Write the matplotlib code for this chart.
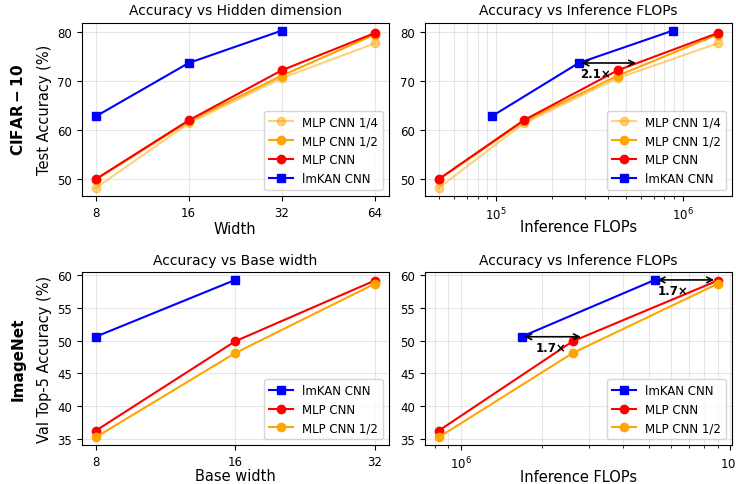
import matplotlib.pyplot as plt

# CIFAR-10 results
cifar_width = [8, 16, 32, 64]
cifar_kan_width = [8, 16, 32]
cifar_mlp = [49.9, 61.9, 72.1, 79.7]
cifar_mlp_half = [49.8, 61.7, 71.0, 79.4]
cifar_mlp_quarter = [48.1, 61.3, 70.5, 77.6]
cifar_kan = [62.7, 73.6, 80.2]
cifar_mlp_flops = [4.95e4, 1.41e5, 4.49e5, 1.54e6]
cifar_kan_flops = [9.5e4, 2.78e5, 8.85e5]

# ImageNet results
imnet_width = [8, 16, 32]
imnet_kan_width = [8, 16]
imnet_mlp = [36.2, 49.9, 59.2]
imnet_mlp_half = [35.2, 48.1, 58.7]
imnet_kan = [50.6, 59.3]
imnet_mlp_flops = [8.28e5, 2.60e6, 8.96e6]
imnet_kan_flops = [1.68e6, 5.24e6]

# speedup arrows: (start flops, accuracy, ratio)
cifar_speedups = [(2.78e5, 73.6, 2.1)]
imnet_speedups = [(1.68e6, 50.6, 1.7), (5.24e6, 59.3, 1.7)]
cifar_text_shift = [1.23]
imnet_text_shift = [1.29, 1.17]

fig = plt.figure(figsize=(7.36, 4.85), dpi=100)
ax1 = fig.add_axes([0.111, 0.594, 0.417, 0.357])
ax2 = fig.add_axes([0.577, 0.594, 0.417, 0.357])
ax3 = fig.add_axes([0.111, 0.080, 0.417, 0.357])
ax4 = fig.add_axes([0.577, 0.080, 0.417, 0.357])

lw = 1.5
ms = 6

def cifar_lines(ax, xm, xk):
    ax.plot(xm, cifar_mlp_quarter, 'o-', color='orange', alpha=0.5, lw=lw, ms=ms, label='MLP CNN 1/4')
    ax.plot(xm, cifar_mlp_half, 'o-', color='orange', lw=lw, ms=ms, label='MLP CNN 1/2')
    ax.plot(xm, cifar_mlp, 'o-', color='red', lw=lw, ms=ms, label='MLP CNN')
    ax.plot(xk, cifar_kan, 's-', color='blue', lw=lw, ms=ms, label='lmKAN CNN')

def imnet_lines(ax, xm, xk):
    ax.plot(xk, imnet_kan, 's-', color='blue', lw=lw, ms=ms, label='lmKAN CNN')
    ax.plot(xm, imnet_mlp, 'o-', color='red', lw=lw, ms=ms, label='MLP CNN')
    ax.plot(xm, imnet_mlp_half, 'o-', color='orange', lw=lw, ms=ms, label='MLP CNN 1/2')

def speedup(ax, items, shifts):
    for (x0, y0, r), s in zip(items, shifts):
        ax.annotate('', xy=(x0 * r, y0), xytext=(x0, y0),
                    arrowprops=dict(arrowstyle='<->', color='black', lw=1.2))
        ax.annotate(f'{r}×', xy=(x0 * s, y0), xytext=(0, -7.5), textcoords='offset points',
                    ha='center', va='center', fontsize=8.5, fontweight='bold')

cifar_lines(ax1, cifar_width, cifar_kan_width)
ax1.set_xscale('log', base=2)
ax1.set_xticks(cifar_width)
ax1.set_xticklabels([str(w) for w in cifar_width])
ax1.set_title('Accuracy vs Hidden dimension', fontsize=10)
ax1.set_xlabel('Width', fontsize=10.5, labelpad=2)
ax1.set_ylabel('Test Accuracy (%)', fontsize=10.5)

cifar_lines(ax2, cifar_mlp_flops, cifar_kan_flops)
ax2.set_xscale('log')
speedup(ax2, cifar_speedups, cifar_text_shift)
ax2.set_title('Accuracy vs Inference FLOPs', fontsize=10)
ax2.set_xlabel('Inference FLOPs', fontsize=10.5, labelpad=-2)

imnet_lines(ax3, imnet_width, imnet_kan_width)
ax3.set_xscale('log', base=2)
ax3.set_xticks(imnet_width)
ax3.set_xticklabels([str(w) for w in imnet_width])
ax3.set_title('Accuracy vs Base width', fontsize=10)
ax3.set_xlabel('Base width', fontsize=10.5, labelpad=0)
ax3.set_ylabel('Val Top-5 Accuracy (%)', fontsize=10.5)

imnet_lines(ax4, imnet_mlp_flops, imnet_kan_flops)
ax4.set_xscale('log')
speedup(ax4, imnet_speedups, imnet_text_shift)
ax4.set_title('Accuracy vs Inference FLOPs', fontsize=10)
ax4.set_xlabel('Inference FLOPs', fontsize=10.5, labelpad=-2)

ax1.set_yticks([50, 60, 70, 80])
ax2.set_yticks([50, 60, 70, 80])
for ax in (ax3, ax4):
    ax.set_yticks([35, 40, 45, 50, 55, 60])

for ax in (ax1, ax3):
    ax.grid(True, alpha=0.3)
for ax in (ax2, ax4):
    ax.grid(True, which='both', alpha=0.3)
for ax in (ax1, ax2, ax3, ax4):
    ax.tick_params(labelsize=8.5)
    ax.legend(loc='lower right', fontsize=8.5)

fig.text(0.025, 0.7725, r'$\mathbf{CIFAR-10}$', rotation=90, ha='center', va='center', fontsize=11)
fig.text(0.025, 0.2585, 'ImageNet', rotation=90, ha='center', va='center', fontsize=11, fontweight='bold')

fig.savefig('out.png', dpi=100)
